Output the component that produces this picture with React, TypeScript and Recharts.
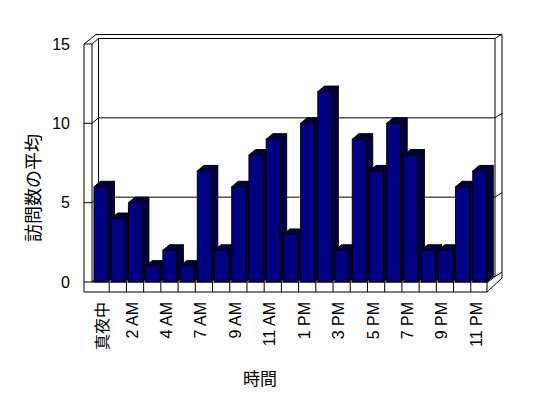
import React from 'react';
import { BarChart, Bar, XAxis, YAxis, CartesianGrid, Customized } from 'recharts';

const hours = ['真夜中', '1 AM', '2 AM', '3 AM', '4 AM', '5 AM', '7 AM', '8 AM', '9 AM', '10 AM', '11 AM', '12 PM',
  '1 PM', '2 PM', '3 PM', '4 PM', '5 PM', '6 PM', '7 PM', '8 PM', '9 PM', '10 PM', '11 PM'];
const visits = [6, 4, 5, 1, 2, 1, 7, 2, 6, 8, 9, 3, 10, 12, 2, 9, 7, 10, 8, 2, 2, 6, 7];
const yTicks = [0, 5, 10, 15];
const yTitle = '訪問数の平均';
const xTitle = '時間';

const data = hours.map((h, i) => ({ hour: h, value: visits[i] }));

const W = 548;
const H = 398;
const PL = 92, PR = 488, PT = 44, PB = 282;
const DX = 6.5, DY = 5.5;
const FLOOR = 10;
const FONT = "'Liberation Sans', 'Noto Sans CJK JP', sans-serif";
const JFONT = "'Noto Sans CJK JP', sans-serif";

const Bar3D = (props: any) => {
  const { x, y, width, height } = props;
  if (height == null || width == null) return null;
  const r = x + width;
  const b = y + height;
  return (
    <g stroke="#000" strokeWidth={1} strokeLinejoin="miter">
      <polygon points={`${x},${y} ${x + DX},${y - DY} ${r + DX},${y - DY} ${r},${y}`} fill="url(#dith)" />
      <polygon points={`${r},${y} ${r + DX},${y - DY} ${r + DX},${b - DY} ${r},${b}`} fill="url(#dith)" />
      <rect x={x} y={y} width={width} height={height} fill="#000080" />
    </g>
  );
};

const gridLine = (p: any) => {
  const { x1, x2, y1, key } = p;
  const by = y1 - DY;
  return (
    <g key={key} stroke="#000" strokeWidth={1} fill="none">
      <line x1={x1 - 8} y1={y1} x2={x1} y2={y1} />
      <line x1={x1} y1={y1} x2={x1 + DX} y2={by} />
      <line x1={x1 + DX} y1={by} x2={x2 + DX + 0.5} y2={by} />
      <line x1={x2 + DX + 0.5} y1={by} x2={x2 + 14} y2={by - 4.5} />
    </g>
  );
};

const Frame = () => {
  const band = (PR - PL) / hours.length;
  const divs = hours.slice(1).map((_, i) => PL + (i + 1) * band);
  return (
    <g stroke="#000" strokeWidth={1} fill="none">
      <defs>
        <pattern id="dith" width={2} height={2} patternUnits="userSpaceOnUse">
          <rect x={0} y={0} width={2} height={2} fill="#000000" stroke="none" />
          <rect x={0} y={0} width={1} height={1} fill="#000080" stroke="none" />
          <rect x={1} y={1} width={1} height={1} fill="#000080" stroke="none" />
        </pattern>
      </defs>
      <line x1={PL - 8} y1={PT} x2={PL - 8} y2={PB + FLOOR} />
      <line x1={PL - 8} y1={PT} x2={PL + 4} y2={PT - 9.5} />
      <line x1={PL + 4} y1={PT - 9.5} x2={PR + 14} y2={PT - 9.5} />
      <line x1={PL + DX} y1={PT - DY} x2={PL + DX} y2={PB - DY} />
      <line x1={PR + DX + 0.5} y1={PT - DY} x2={PR + DX + 0.5} y2={PB - DY} />
      <line x1={PR + 14} y1={PT - 9.5} x2={PR + 14} y2={PB - 4} />
      <line x1={PL - 8} y1={PB + FLOOR} x2={PR - 1} y2={PB + FLOOR} />
      <line x1={PR - 1} y1={PB} x2={PR - 1} y2={PB + FLOOR} />
      <line x1={PR - 1} y1={PB + FLOOR} x2={PR + 14} y2={PB - 4} />
      <line x1={PR} y1={PB} x2={PR + DX + 0.5} y2={PB - DY} />
      {divs.map((d, i) => (
        <line key={i} x1={d} y1={PB} x2={d} y2={PB + FLOOR} />
      ))}
      <text x={32} y={188} transform={`rotate(-90 32 188)`} textAnchor="middle" dominantBaseline="central"
        fontSize={18} fontFamily={JFONT} fill="#000" stroke="none">{yTitle}</text>
      <text x={260} y={377} textAnchor="middle" dominantBaseline="central"
        fontSize={17} fontFamily={JFONT} fill="#000" stroke="none">{xTitle}</text>
    </g>
  );
};

const XTick = (props: any) => {
  const { x, y, payload } = props;
  const label: string = payload.value;
  const isAscii = /^[\x00-\x7F]+$/.test(label);
  const tx = isAscii ? x - 3 : x;
  return (
    <text x={tx} y={y} transform={`rotate(-90 ${tx} ${y})`} textAnchor="end" dominantBaseline="central"
      fontSize={16} fontFamily={isAscii ? FONT : JFONT} fill="#000000">{label}</text>
  );
};

export default function App() {
  return (
    <div style={{ position: 'absolute', left: 0, top: 0, width: W, height: H, background: '#fff' }}>
      <BarChart width={W} height={H} data={data}
        margin={{ top: PT, right: W - PR, bottom: H - PB - 60, left: PL - 60 }}>
        <CartesianGrid vertical={false} horizontal={gridLine} />
        <Customized component={<Frame />} />
        <XAxis dataKey="hour" interval={1} tick={<XTick />} tickLine={false} tickSize={0} tickMargin={20}
          height={60} axisLine={{ stroke: '#000' }} />
        <YAxis domain={[0, 15]} ticks={yTicks} width={60} tickLine={false} tickSize={0} tickMargin={22}
          axisLine={{ stroke: '#000' }} tick={{ fill: '#000', fontSize: 16, fontFamily: FONT }} />
        <Bar dataKey="value" barSize={14} shape={<Bar3D />} isAnimationActive={false} />
      </BarChart>
    </div>
  );
}
